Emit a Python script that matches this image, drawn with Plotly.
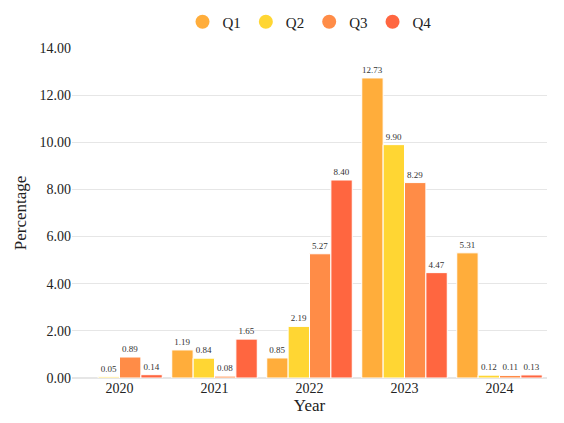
import plotly.graph_objects as go

years = ["2020", "2021", "2022", "2023", "2024"]
q1 = [None, 1.19, 0.85, 12.73, 5.31]
q2 = [0.05, 0.84, 2.19, 9.90, 0.12]
q3 = [0.89, 0.08, 5.27, 8.29, 0.11]
q4 = [0.14, 1.65, 8.40, 4.47, 0.13]

series = [("Q1", q1, "#FFAD3B"), ("Q2", q2, "#FFD633"),
          ("Q3", q3, "#FF8C47"), ("Q4", q4, "#FF6640")]

FONT = "Liberation Serif"

fig = go.Figure()
for name, vals, color in series:
    fig.add_trace(go.Bar(
        x=years, y=vals, name=name, showlegend=False, legendgroup=name,
        marker=dict(color=color, line=dict(color="white", width=1)),
        text=[f"{v:.2f}" if v is not None else "" for v in vals],
        textposition="outside",
        textfont=dict(family=FONT, size=9, color="#333333"),
        cliponaxis=False,
    ))
    # legend entry with round marker
    fig.add_trace(go.Scatter(
        x=[None], y=[None], mode="markers", name=name, legendgroup=name,
        marker=dict(color=color, size=14, symbol="circle"),
    ))

fig.update_layout(
    width=564, height=423,
    font=dict(family=FONT, size=14, color="#222222"),
    plot_bgcolor="white", paper_bgcolor="white",
    barmode="group", bargap=0.1, bargroupgap=0.0,
    margin=dict(l=64, r=25, t=40, b=53, autoexpand=False),
    legend=dict(orientation="h", x=0.5, xanchor="center",
                yref="container", y=0.967, yanchor="middle",
                font=dict(family=FONT, size=15), itemwidth=30),
    xaxis=dict(title=dict(text="Year", standoff=2), showgrid=False, ticks="",
               showline=False, tickfont=dict(family=FONT, size=14)),
    yaxis=dict(title=dict(text="Percentage", standoff=8), range=[0, 14], dtick=2,
               tickformat=".2f", gridcolor="#e6e6e6", zeroline=True,
               zerolinecolor="#e6e6e6", ticks="", tickfont=dict(family=FONT, size=14)),
)

fig.write_html("out.html")
